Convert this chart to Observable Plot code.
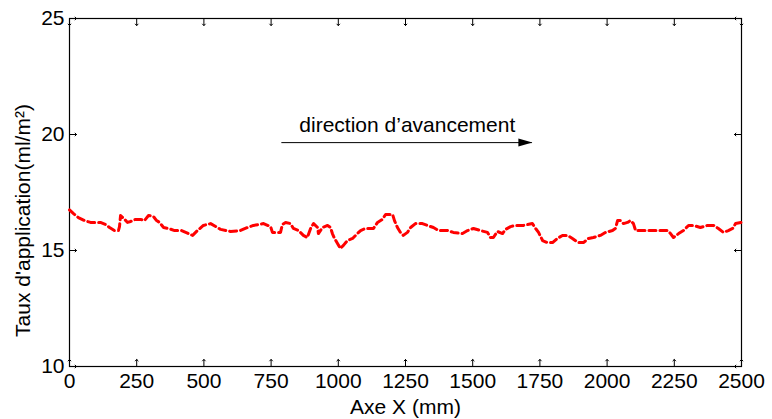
<!DOCTYPE html>
<html>
<head>
<meta charset="utf-8">
<script src="https://cdn.jsdelivr.net/npm/d3@7"></script>
<script src="https://cdn.jsdelivr.net/npm/@observablehq/plot@0.6"></script>
<style>
  body { margin: 0; background: #fff; }
</style>
</head>
<body>
<div id="chart"></div>
<script>
// Position along the X axis (mm)
const positionMm = [
  0, 15, 33, 56, 78, 115, 134, 149, 167, 182, 186, 190, 205, 216, 227, 246, 264, 279, 294, 312,
  324, 335, 350, 368, 391, 417, 443, 458, 476, 498, 525, 562, 599, 636, 662, 684, 722, 748, 755, 785,
  792, 804, 822, 833, 852, 870, 885, 897, 908, 923, 926, 941, 960, 971, 978, 986, 997, 1008, 1019, 1034,
  1053, 1071, 1083, 1101, 1131, 1146, 1164, 1176, 1202, 1209, 1220, 1231, 1242, 1257, 1269, 1287, 1313, 1332, 1354, 1373,
  1406, 1428, 1462, 1481, 1503, 1529, 1555, 1566, 1577, 1592, 1611, 1622, 1641, 1659, 1689, 1722, 1734, 1745, 1760, 1778,
  1797, 1815, 1834, 1853, 1871, 1893, 1912, 1931, 1949, 1975, 1994, 2020, 2031, 2039, 2050, 2061, 2076, 2087, 2098, 2106,
  2132, 2172, 2225, 2236, 2247, 2266, 2284, 2303, 2321, 2347, 2373, 2396, 2414, 2433, 2451, 2467, 2478, 2500
];
// Application rate (ml/m²)
const rate = [
  16.75, 16.59, 16.42, 16.29, 16.21, 16.21, 16.12, 15.99, 15.86, 15.86, 16.03, 16.51, 16.34, 16.21, 16.25, 16.34, 16.34, 16.29, 16.51, 16.47,
  16.29, 16.21, 15.99, 15.95, 15.86, 15.86, 15.73, 15.65, 15.86, 16.08, 16.16, 15.91, 15.82, 15.86, 15.99, 16.08, 16.16, 16.03, 15.78, 15.78,
  16.12, 16.21, 16.16, 15.95, 15.86, 15.65, 15.56, 15.95, 16.16, 15.99, 15.73, 15.99, 16.08, 15.99, 15.73, 15.52, 15.30, 15.09, 15.22, 15.43,
  15.52, 15.73, 15.86, 15.95, 15.95, 16.21, 16.34, 16.55, 16.55, 16.29, 15.99, 15.78, 15.65, 15.78, 15.99, 16.16, 16.16, 16.08, 15.99, 15.86,
  15.86, 15.78, 15.73, 15.86, 15.95, 15.86, 15.78, 15.56, 15.56, 15.82, 15.73, 15.91, 16.03, 16.08, 16.08, 16.16, 15.95, 15.78, 15.43, 15.34,
  15.34, 15.52, 15.65, 15.65, 15.52, 15.34, 15.34, 15.52, 15.56, 15.65, 15.78, 15.86, 15.95, 16.29, 16.29, 16.16, 16.21, 16.29, 16.16, 15.86,
  15.86, 15.86, 15.86, 15.73, 15.56, 15.73, 15.86, 16.08, 16.08, 15.99, 16.08, 16.08, 15.95, 15.78, 15.86, 15.95, 16.16, 16.21
];

const xTicks = [0, 250, 500, 750, 1000, 1250, 1500, 1750, 2000, 2250, 2500];
const yTicks = [10, 15, 20, 25];

// Direction annotation: arrow from arrowX[0] to arrowX[1] at height arrowY
const arrowX = [790, 1722];
const arrowY = 19.65;
const noteText = "direction d’avancement";
const noteX = 855;
const noteY = 20.41;

const data = positionMm.map((x, i) => ({x, y: rate[i]}));

// filled triangular arrowhead, tip at the end of the vector
const headShape = {
  draw(ctx, l, r) {
    ctx.moveTo(0, -l);
    ctx.lineTo(-r, 0);
    ctx.lineTo(r, 0);
    ctx.closePath();
  }
};

const font = "'Liberation Sans', Arial, Helvetica, sans-serif";

const chart = Plot.plot({
  width: 772,
  height: 419,
  marginLeft: 69,
  marginRight: 31,
  marginTop: 18,
  marginBottom: 53,
  style: {fontFamily: font, fontSize: "21px", background: "#fff", color: "#000"},
  x: {domain: [0, 2500]},
  y: {domain: [10, 25]},
  marks: [
    Plot.axisX(xTicks, {tickSize: 0, tickPadding: 7, tickFormat: d3.format("d"), label: null, fontSize: 21}),
    Plot.axisY(yTicks, {tickSize: 0, tickPadding: 5, label: null, fontSize: 21}),
    // inward tick marks on all four sides
    Plot.vector(xTicks, {x: d => d, frameAnchor: "bottom", length: 7, rotate: 0, anchor: "start", stroke: "#000", strokeWidth: 1}),
    Plot.vector(xTicks, {x: d => d, frameAnchor: "top", length: 7, rotate: 180, anchor: "start", stroke: "#000", strokeWidth: 1}),
    Plot.vector(yTicks, {y: d => d, frameAnchor: "left", length: 7, rotate: 90, anchor: "start", stroke: "#000", strokeWidth: 1}),
    Plot.vector(yTicks, {y: d => d, frameAnchor: "right", length: 7, rotate: -90, anchor: "start", stroke: "#000", strokeWidth: 1}),
    Plot.frame({stroke: "#000", strokeWidth: 1.2}),
    Plot.line(data, {x: "x", y: "y", stroke: "#ff0000", strokeWidth: 3, strokeDasharray: "7,4"}),
    // direction arrow and its caption
    Plot.ruleY([arrowY], {x1: arrowX[0], x2: arrowX[1], stroke: "#000", strokeWidth: 1}),
    Plot.vector([arrowX[1]], {x: d => d, y: () => arrowY, length: 14, r: 4, rotate: 90, anchor: "end", shape: headShape, fill: "#000", stroke: "none"}),
    Plot.text([noteText], {x: () => noteX, y: () => noteY, text: d => d, textAnchor: "start", lineAnchor: "middle", fontSize: 21}),
    // axis titles
    Plot.text(["Axe X (mm)"], {frameAnchor: "bottom", text: d => d, dy: 41, textAnchor: "middle", lineAnchor: "middle", fontSize: 21}),
    Plot.text(["Taux d'application(ml/m²)"], {frameAnchor: "left", text: d => d, dx: -46, dy: 28, rotate: -90, textAnchor: "middle", lineAnchor: "middle", fontSize: 21})
  ]
});

document.getElementById("chart").append(chart);
</script>
</body>
</html>
